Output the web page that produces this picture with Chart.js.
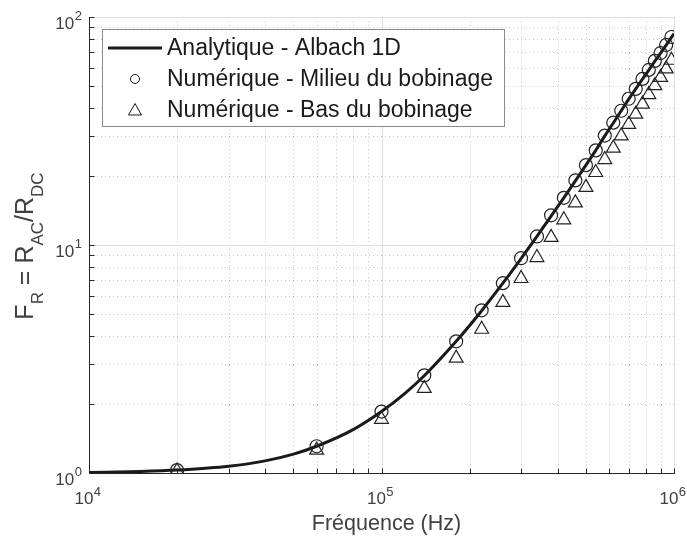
<!DOCTYPE html>
<html>
<head>
<meta charset="utf-8">
<script src="https://cdn.jsdelivr.net/npm/chart.js@4/dist/chart.umd.min.js"></script>
<style>
  body { margin: 0; background: #fff; }
  canvas { display: block; }
</style>
</head>
<body>
<canvas id="myChart" width="687" height="542"></canvas>
<script>
// fréquences des points numériques (Hz)
const frequences = [20e3, 60e3, 100e3, 140e3, 180e3, 220e3, 260e3, 300e3, 340e3, 380e3, 420e3, 460e3, 500e3,
  540e3, 580e3, 620e3, 660e3, 700e3, 740e3, 780e3, 820e3, 860e3, 900e3, 940e3, 980e3];
const milieu = [1.03, 1.31, 1.86, 2.68, 3.78, 5.17, 6.8, 8.75, 10.9, 13.5, 16.1, 19.2, 22.4,
  26.0, 30.2, 34.4, 38.8, 43.8, 48.4, 53.5, 58.6, 64.2, 69.5, 75.4, 81.7];
const bas = [1.02, 1.26, 1.72, 2.35, 3.19, 4.27, 5.6, 7.13, 8.81, 10.8, 12.9, 15.3, 17.9,
  20.8, 23.7, 26.6, 30.1, 33.8, 37.5, 41.5, 45.7, 50.0, 54.3, 59.2, 64.6];

// courbe analytique
const analytiqueF = [1e4, 1.5e4, 2e4, 3e4, 4e4, 5e4, 6e4, 8e4, 1e5, 1.2e5, 1.4e5, 1.8e5, 2.2e5, 2.6e5, 3e5,
  3.4e5, 3.8e5, 4.2e5, 4.6e5, 5e5, 5.4e5, 5.8e5, 6.2e5, 6.6e5, 7e5, 7.4e5, 7.8e5, 8.2e5, 8.6e5, 9e5, 9.4e5, 9.8e5, 1e6];
const analytiqueFR = [1.004, 1.015, 1.03, 1.07, 1.13, 1.21, 1.31, 1.55, 1.86, 2.23, 2.67, 3.78, 5.15, 6.8, 8.72,
  10.9, 13.4, 16.1, 19.1, 22.4, 26.0, 30.1, 34.3, 38.8, 43.6, 48.4, 53.4, 58.5, 64.0, 69.4, 75.2, 81.4, 84.6];

const decadesX = [1e4, 1e5, 1e6];
const decadesY = [1, 10, 100];
const expX = ['4', '5', '6'];
const expY = ['0', '1', '2'];

const police = '"Liberation Sans", Arial, Helvetica, sans-serif';
const gris = '#404040';

function pts(xs, ys) {
  return xs.map((x, i) => ({ x: x, y: ys[i] }));
}

// grille MATLAB (majeure pleine, mineure pointillée) + axes + graduations
const grillePlugin = {
  id: 'grille',
  beforeDatasetsDraw(chart) {
    const { ctx, chartArea: a, scales: { x, y } } = chart;
    ctx.save();
    const valeurs = (dec) => {
      const v = [];
      for (let d = 0; d < dec.length; d++) {
        for (let k = 1; k <= 9; k++) {
          const val = dec[d] * k;
          if (val <= dec[dec.length - 1] + 1e-9) v.push({ val: val, major: k === 1 });
        }
      }
      return v;
    };
    const vx = valeurs(decadesX), vy = valeurs(decadesY);
    ctx.lineWidth = 1;
    // mineures
    ctx.strokeStyle = '#c8c8c8';
    ctx.setLineDash([1, 3]);
    ctx.beginPath();
    vx.filter(t => !t.major).forEach(t => {
      const px = Math.round(x.getPixelForValue(t.val)) + 0.5;
      ctx.moveTo(px, a.top); ctx.lineTo(px, a.bottom);
    });
    vy.filter(t => !t.major).forEach(t => {
      const py = Math.round(y.getPixelForValue(t.val)) + 0.5;
      ctx.moveTo(a.left, py); ctx.lineTo(a.right, py);
    });
    ctx.stroke();
    // majeures
    ctx.setLineDash([]);
    ctx.strokeStyle = '#dedede';
    ctx.beginPath();
    vx.filter(t => t.major).forEach(t => {
      const px = Math.round(x.getPixelForValue(t.val)) + 0.5;
      ctx.moveTo(px, a.top); ctx.lineTo(px, a.bottom);
    });
    vy.filter(t => t.major).forEach(t => {
      const py = Math.round(y.getPixelForValue(t.val)) + 0.5;
      ctx.moveTo(a.left, py); ctx.lineTo(a.right, py);
    });
    ctx.stroke();
    // axes
    ctx.strokeStyle = '#262626';
    ctx.beginPath();
    const L = Math.round(a.left) + 0.5, B = Math.round(a.bottom) + 0.5;
    ctx.moveTo(L, Math.round(a.top)); ctx.lineTo(L, B); ctx.lineTo(Math.round(a.right) + 1, B);
    vx.forEach(t => {
      const px = Math.round(x.getPixelForValue(t.val)) + 0.5;
      ctx.moveTo(px, B); ctx.lineTo(px, B - 5);
    });
    vy.forEach(t => {
      const py = Math.round(y.getPixelForValue(t.val)) + 0.5;
      ctx.moveTo(L, py); ctx.lineTo(L + 5, py);
    });
    ctx.stroke();

    // étiquettes 10^n
    ctx.fillStyle = gris;
    ctx.textBaseline = 'alphabetic';
    decadesX.forEach((v, i) => {
      const px = x.getPixelForValue(v);
      ctx.font = '17px ' + police;
      const w1 = ctx.measureText('10').width;
      ctx.font = '13px ' + police;
      const w2 = ctx.measureText(expX[i]).width;
      const x0 = px - 1.5 - (w1 + w2) / 2;
      ctx.font = '17px ' + police;
      ctx.textAlign = 'left';
      ctx.fillText('10', x0, a.bottom + 31);
      ctx.font = '13px ' + police;
      ctx.fillText(expX[i], x0 + w1 + 0.5, a.bottom + 23);
    });
    decadesY.forEach((v, i) => {
      const py = y.getPixelForValue(v);
      ctx.font = '13px ' + police;
      const w2 = ctx.measureText(expY[i]).width;
      ctx.textAlign = 'left';
      ctx.fillText(expY[i], 82 - w2, py + 2.5);
      ctx.font = '17px ' + police;
      ctx.textAlign = 'right';
      ctx.fillText('10', 82 - w2 - 0.5, py + 11.5);
    });

    // titre de l'axe x
    ctx.font = '21.5px ' + police;
    ctx.textAlign = 'center';
    ctx.fillText('Fréquence (Hz)', (a.left + a.right) / 2 + 5, 530);

    // titre de l'axe y : F_R = R_AC/R_DC
    const morceaux = [['F', 0], ['R', 1], [' = R', 0], ['AC', 1], ['/R', 0], ['DC', 1]];
    const fMain = '25px ' + police, fSub = '17px ' + police;
    let total = 0;
    morceaux.forEach(m => { ctx.font = m[1] ? fSub : fMain; total += ctx.measureText(m[0]).width; });
    ctx.translate(33, 246);
    ctx.rotate(-Math.PI / 2);
    ctx.textAlign = 'left';
    let cx = -total / 2;
    morceaux.forEach(m => {
      ctx.font = m[1] ? fSub : fMain;
      ctx.fillText(m[0], cx, m[1] ? 10 : 0);
      cx += ctx.measureText(m[0]).width;
    });
    ctx.restore();
  },
  afterDatasetsDraw(chart) {
    // légende encadrée
    const { ctx } = chart;
    const ds = chart.data.datasets;
    ctx.save();
    ctx.fillStyle = '#fff';
    ctx.fillRect(102.5, 29.5, 402, 97);
    ctx.strokeStyle = '#8a8a8a';
    ctx.lineWidth = 1;
    ctx.strokeRect(102.5, 29.5, 402, 97);
    const rows = [48, 79, 110];
    ctx.strokeStyle = '#1a1a1a';
    ctx.lineWidth = 3;
    ctx.beginPath(); ctx.moveTo(108, rows[0]); ctx.lineTo(162, rows[0]); ctx.stroke();
    ctx.lineWidth = 1;
    ctx.beginPath(); ctx.arc(135, rows[1], 4.5, 0, Math.PI * 2); ctx.stroke();
    ctx.beginPath();
    ctx.moveTo(135, rows[2] - 6.5); ctx.lineTo(141.5, rows[2] + 5); ctx.lineTo(128.5, rows[2] + 5); ctx.closePath();
    ctx.stroke();
    ctx.fillStyle = '#1a1a1a';
    ctx.font = '23px ' + police;
    ctx.textAlign = 'left';
    ctx.textBaseline = 'middle';
    ds.forEach((d, i) => ctx.fillText(d.label, 167, rows[i] + 1));
    ctx.restore();
  }
};

const ctx = document.getElementById('myChart').getContext('2d');
new Chart(ctx, {
  type: 'line',
  data: {
    datasets: [
      {
        label: 'Analytique - Albach 1D',
        data: pts(analytiqueF, analytiqueFR),
        borderColor: '#1a1a1a',
        borderWidth: 3,
        pointRadius: 0,
        cubicInterpolationMode: 'monotone',
        fill: false,
        order: 2
      },
      {
        label: 'Numérique - Milieu du bobinage',
        data: pts(frequences, milieu),
        showLine: false,
        pointStyle: 'circle',
        pointRadius: 6.5,
        borderColor: '#222',
        borderWidth: 1.2,
        backgroundColor: 'rgba(0,0,0,0)',
        order: 1
      },
      {
        label: 'Numérique - Bas du bobinage',
        data: pts(frequences, bas),
        showLine: false,
        pointStyle: 'triangle',
        pointRadius: 8,
        borderColor: '#222',
        borderWidth: 1.2,
        backgroundColor: 'rgba(0,0,0,0)',
        order: 1
      }
    ]
  },
  options: {
    responsive: false,
    animation: false,
    layout: { padding: { left: 89, top: 17, right: 13, bottom: 69 } },
    scales: {
      x: {
        type: 'logarithmic', min: 1e4, max: 1e6,
        ticks: { display: false }, grid: { display: false, drawTicks: false }, border: { display: false }
      },
      y: {
        type: 'logarithmic', min: 1, max: 100,
        ticks: { display: false }, grid: { display: false, drawTicks: false }, border: { display: false }
      }
    },
    plugins: {
      legend: { display: false },
      tooltip: { enabled: false }
    }
  },
  plugins: [grillePlugin]
});
</script>
</body>
</html>
